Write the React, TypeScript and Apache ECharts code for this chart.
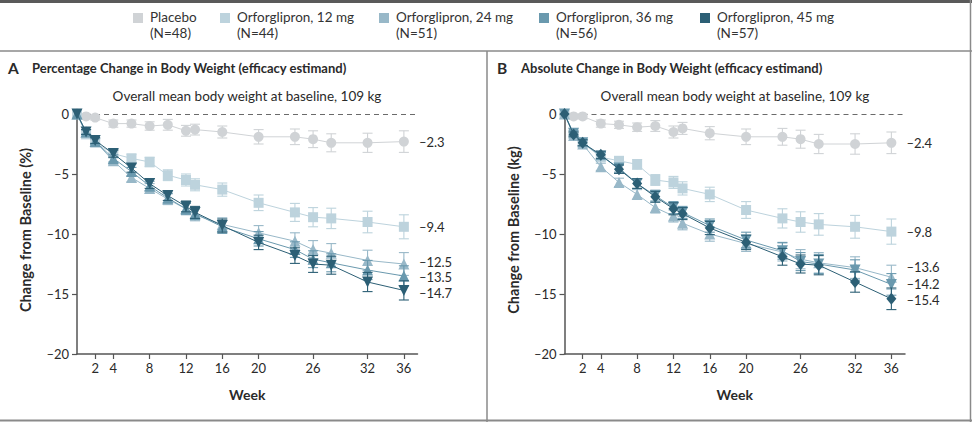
import React, { useEffect, useRef } from "react";
import * as echarts from "echarts";

// Study visit weeks
const weeks = [0, 1, 2, 4, 6, 8, 10, 12, 13, 16, 20, 24, 26, 28, 32, 36];
const tickWeeks = [2, 4, 8, 12, 16, 20, 26, 32, 36];

// Legend entries
const groupNames = [
  "Placebo",
  "Orforglipron, 12 mg",
  "Orforglipron, 24 mg",
  "Orforglipron, 36 mg",
  "Orforglipron, 45 mg",
];
const groupCounts = ["(N=48)", "(N=44)", "(N=51)", "(N=56)", "(N=57)"];
const groupColors = ["#d0d3d6", "#bdd3dd", "#98b8c8", "#6a99ae", "#2c5f75"];

// Panel A: percentage change in body weight (mean, half-width of error bar)
const placeboPct = [0, -0.2, -0.3, -0.8, -0.8, -1.0, -0.9, -1.4, -1.3, -1.5, -1.9, -1.9, -2.1, -2.4, -2.4, -2.3];
const mg12Pct = [0, -1.7, -2.4, -3.3, -3.7, -4.0, -5.1, -5.5, -5.9, -6.3, -7.4, -8.2, -8.6, -8.7, -9.0, -9.4];
const mg24Pct = [0, -1.5, -2.3, -3.9, -5.3, -6.2, -7.1, -7.9, -8.4, -9.2, -9.9, -10.6, -11.3, -11.6, -12.2, -12.5];
const mg36Pct = [0, -1.5, -2.3, -3.7, -4.8, -6.0, -7.0, -7.9, -8.3, -9.4, -10.4, -11.3, -12.1, -12.4, -13.0, -13.5];
const mg45Pct = [0, -1.5, -2.2, -3.3, -4.5, -5.8, -6.8, -7.7, -8.2, -9.3, -10.7, -11.8, -12.5, -12.6, -14.0, -14.7];

const placeboPctErr = [0, 0.2, 0.2, 0.3, 0.3, 0.35, 0.45, 0.45, 0.45, 0.5, 0.6, 0.65, 0.7, 0.75, 0.8, 0.9];
const mg12PctErr = [0, 0.2, 0.25, 0.3, 0.35, 0.4, 0.45, 0.5, 0.5, 0.55, 0.65, 0.75, 0.8, 0.85, 0.9, 1.0];
const mg24PctErr = [0, 0.2, 0.25, 0.3, 0.35, 0.4, 0.45, 0.5, 0.5, 0.55, 0.6, 0.7, 0.75, 0.8, 0.85, 0.95];
const mg36PctErr = [0, 0.2, 0.25, 0.3, 0.35, 0.4, 0.4, 0.45, 0.5, 0.55, 0.6, 0.65, 0.7, 0.75, 0.8, 0.85];
const mg45PctErr = [0, 0.2, 0.25, 0.3, 0.35, 0.4, 0.4, 0.45, 0.5, 0.55, 0.6, 0.65, 0.7, 0.75, 0.8, 0.8];

// Panel B: absolute change in body weight, kg
const placeboKg = [0, -0.2, -0.2, -0.8, -0.9, -1.1, -1.0, -1.5, -1.2, -1.6, -1.9, -1.9, -2.1, -2.5, -2.5, -2.4];
const mg12Kg = [0, -1.7, -2.4, -3.6, -3.9, -4.2, -5.5, -5.7, -6.2, -6.7, -8.0, -8.7, -9.0, -9.2, -9.4, -9.8];
const mg24Kg = [0, -1.8, -2.5, -4.4, -5.7, -6.7, -7.8, -8.5, -9.1, -10.0, -10.8, -11.5, -12.1, -12.4, -12.8, -13.6];
const mg36Kg = [0, -1.6, -2.4, -3.5, -4.5, -5.8, -6.8, -7.8, -8.2, -9.3, -10.5, -11.4, -12.3, -12.5, -13.0, -14.2];
const mg45Kg = [0, -1.7, -2.4, -3.4, -4.6, -5.8, -6.9, -7.9, -8.3, -9.5, -10.7, -11.9, -12.5, -12.6, -14.0, -15.4];

const placeboKgErr = [0, 0.2, 0.2, 0.3, 0.3, 0.35, 0.45, 0.5, 0.5, 0.55, 0.65, 0.7, 0.75, 0.8, 0.85, 0.9];
const mg12KgErr = [0, 0.2, 0.25, 0.3, 0.35, 0.4, 0.45, 0.5, 0.55, 0.6, 0.7, 0.8, 0.85, 0.9, 0.95, 1.05];
const mg24KgErr = [0, 0.2, 0.25, 0.3, 0.35, 0.4, 0.45, 0.5, 0.55, 0.6, 0.65, 0.75, 0.8, 0.85, 0.9, 1.0];
const mg36KgErr = [0, 0.2, 0.25, 0.3, 0.35, 0.4, 0.45, 0.5, 0.5, 0.55, 0.65, 0.7, 0.75, 0.8, 0.85, 0.9];
const mg45KgErr = [0, 0.2, 0.25, 0.3, 0.35, 0.4, 0.45, 0.5, 0.5, 0.55, 0.6, 0.7, 0.75, 0.8, 0.85, 0.9];

const FONT = 'Lato, "Noto Sans", "DejaVu Sans", sans-serif';
const INK = "#2a2a2a";

const dash = (v: number) => String(v).replace("-", "\u2013");

type Marker = { symbol: string; size: number | number[]; rotate?: number };

const markersA: Marker[] = [
  { symbol: "circle", size: 10 },
  { symbol: "rect", size: 10 },
  { symbol: "triangle", size: 11 },
  { symbol: "triangle", size: 11 },
  { symbol: "triangle", size: 11, rotate: 180 },
];
const markersB: Marker[] = [
  { symbol: "circle", size: 10 },
  { symbol: "rect", size: 10 },
  { symbol: "triangle", size: 11 },
  { symbol: "triangle", size: 11, rotate: 180 },
  { symbol: "diamond", size: [10, 12] },
];

function buildPanel(
  idx: number,
  values: number[][],
  errs: number[][],
  markers: Marker[],
  labelShift: number[]
) {
  const out: any[] = [];
  values.forEach((vals, g) => {
    const color = groupColors[g];
    const bars = weeks
      .map((w, i) => [w, vals[i] - errs[g][i], vals[i] + errs[g][i]])
      .filter((_, i) => errs[g][i] > 0);
    out.push({
      type: "custom",
      xAxisIndex: idx,
      yAxisIndex: idx,
      data: bars,
      encode: { x: 0, y: [1, 2] },
      z: 2 + g * 2,
      silent: true,
      renderItem: (_p: any, api: any) => {
        const lo = api.coord([api.value(0), api.value(1)]);
        const hi = api.coord([api.value(0), api.value(2)]);
        const st = { stroke: color, lineWidth: 1.1 };
        return {
          type: "group",
          children: [
            { type: "line", shape: { x1: lo[0], y1: lo[1], x2: hi[0], y2: hi[1] }, style: st },
            { type: "line", shape: { x1: lo[0] - 5, y1: lo[1], x2: lo[0] + 5, y2: lo[1] }, style: st },
            { type: "line", shape: { x1: hi[0] - 5, y1: hi[1], x2: hi[0] + 5, y2: hi[1] }, style: st },
          ],
        };
      },
    });
    const m = markers[g];
    const line: any = {
      type: "line",
      name: groupNames[g],
      xAxisIndex: idx,
      yAxisIndex: idx,
      data: weeks.map((w, i) => [w, vals[i]]),
      symbol: m.symbol,
      symbolSize: m.size,
      symbolRotate: m.rotate || 0,
      showAllSymbol: true,
      clip: false,
      z: 3 + g * 2,
      color,
      itemStyle: { color, opacity: 1 },
      lineStyle: { color, width: 1 },
      endLabel: {
        show: true,
        formatter: (p: any) => dash(p.value[1]),
        color: INK,
        fontFamily: FONT,
        fontSize: 13,
        lineHeight: 13,
        distance: 15,
        offset: [0, labelShift[g]],
      },
    };
    if (g === 0) {
      line.markLine = {
        silent: true,
        symbol: ["none", "none"],
        label: { show: false },
        lineStyle: { color: "#6a6a6a", type: [5, 4], width: 1.2 },
        data: [{ yAxis: 0 }],
        z: 1,
      };
    }
    out.push(line);
  });
  return out;
}

function axesFor(idx: number, yName: string) {
  const xAxis = {
    type: "value",
    gridIndex: idx,
    min: 0,
    max: 37.5,
    axisLine: { show: true, onZero: false, lineStyle: { color: "#555", width: 1.5 } },
    axisTick: { show: true, customValues: tickWeeks, length: 5, lineStyle: { color: "#555", width: 1.2 } },
    axisLabel: { customValues: tickWeeks, color: INK, fontFamily: FONT, fontSize: 13, margin: 7 },
    splitLine: { show: false },
    name: "Week",
    nameLocation: "middle",
    nameGap: 33,
    nameTextStyle: { color: INK, fontFamily: FONT, fontSize: 14, fontWeight: "bold" },
  };
  const yAxis = {
    type: "value",
    gridIndex: idx,
    min: -20,
    max: 0,
    interval: 5,
    axisLine: { show: true, onZero: false, lineStyle: { color: "#555", width: 1.5 } },
    axisTick: { show: true, length: 5, lineStyle: { color: "#555", width: 1.2 } },
    axisLabel: { color: INK, fontFamily: FONT, fontSize: 13, margin: 8, formatter: (v: number) => dash(v) },
    splitLine: { show: false },
    name: yName,
    nameLocation: "middle",
    nameGap: 44,
    nameTextStyle: { color: INK, fontFamily: FONT, fontSize: 14.5, fontWeight: "bold", padding: [0, 0, 0, 8] },
  };
  return { xAxis, yAxis };
}

const legendX = [133, 220, 379, 539, 700];

export default function App() {
  const ref = useRef<HTMLDivElement>(null);

  useEffect(() => {
    if (!ref.current) return;
    const chart = echarts.init(ref.current, null, { renderer: "svg" });

    const a = axesFor(0, "Change from Baseline (%)");
    const b = axesFor(1, "Change from Baseline (kg)");

    const legendItems: any[] = [];
    groupNames.forEach((n, g) => {
      legendItems.push({
        type: "rect",
        shape: { x: legendX[g], y: 13, width: 10, height: 10 },
        style: { fill: groupColors[g] },
      });
      legendItems.push({
        type: "text",
        x: legendX[g] + 17,
        y: 9,
        style: {
          text: n + "\n" + groupCounts[g],
          fill: "#333",
          font: `13.5px ${FONT}`,
          lineHeight: 16,
        },
      });
    });

    const frameLine = (x1: number, y1: number, x2: number, y2: number, w: number, c: string) => ({
      type: "line",
      shape: { x1, y1, x2, y2 },
      style: { stroke: c, lineWidth: w },
      silent: true,
    });

    const heading = (x: number, letter: string, text: string) => [
      { type: "text", x, y: 68, style: { text: letter, fill: INK, font: `bold 15.5px ${FONT}`, verticalAlign: "middle" } },
      { type: "text", x: x + 24, y: 68, style: { text, fill: INK, font: `bold 13px ${FONT}`, verticalAlign: "middle" } },
    ];

    const note = (cx: number) => ({
      type: "text",
      x: cx,
      y: 96,
      style: {
        text: "Overall mean body weight at baseline, 109 kg",
        fill: INK,
        font: `13.5px ${FONT}`,
        align: "center",
        verticalAlign: "middle",
      },
    });

    chart.setOption({
      animation: false,
      backgroundColor: "#ffffff",
      textStyle: { fontFamily: FONT },
      grid: [
        { left: 77, top: 114, width: 340.5, height: 240 },
        { left: 564.5, top: 114, width: 340.5, height: 240 },
      ],
      xAxis: [a.xAxis, b.xAxis],
      yAxis: [a.yAxis, b.yAxis],
      graphic: [
        frameLine(0, 1.5, 972, 1.5, 3, "#5a5a5a"),
        frameLine(0, 51, 972, 51, 1.5, "#8a8a8a"),
        frameLine(487, 51, 487, 422, 1.5, "#8a8a8a"),
        frameLine(0, 420.5, 972, 420.5, 2, "#8a8a8a"),
        frameLine(970.5, 0, 970.5, 422, 1.5, "#8a8a8a"),
        ...legendItems,
        ...heading(8, "A", "Percentage Change in Body Weight (efficacy estimand)"),
        ...heading(497, "B", "Absolute Change in Body Weight (efficacy estimand)"),
        note(247),
        note(735),
      ],
      series: [
        ...buildPanel(
          0,
          [placeboPct, mg12Pct, mg24Pct, mg36Pct, mg45Pct],
          [placeboPctErr, mg12PctErr, mg24PctErr, mg36PctErr, mg45PctErr],
          markersA,
          [0, 0, -2, 1, 3]
        ),
        ...buildPanel(
          1,
          [placeboKg, mg12Kg, mg24Kg, mg36Kg, mg45Kg],
          [placeboKgErr, mg12KgErr, mg24KgErr, mg36KgErr, mg45KgErr],
          markersB,
          [0, 0, -10, 0, 1.5]
        ),
      ],
    });

    return () => chart.dispose();
  }, []);

  return (
    <div
      ref={ref}
      style={{ position: "fixed", left: 0, top: 0, width: 972, height: 422, background: "#fff" }}
    />
  );
}
